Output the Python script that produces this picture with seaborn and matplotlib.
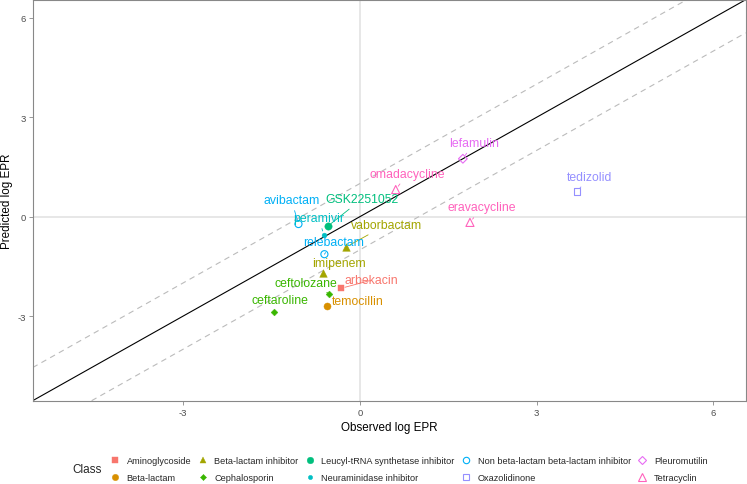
import numpy as np
import pandas as pd
import matplotlib
matplotlib.use("Agg")
import matplotlib.pyplot as plt
from matplotlib.lines import Line2D
import seaborn as sns

sns.set_theme(style="white")
plt.rcParams['font.family'] = ['Liberation Sans', 'DejaVu Sans']

# ---- data ----
drugs = ["arbekacin", "temocillin", "vaborbactam", "imipenem", "ceftolozane",
         "ceftaroline", "GSK2251052", "peramivir", "avibactam", "relebactam",
         "tedizolid", "lefamulin", "omadacycline", "eravacycline"]
drug_class = ["Aminoglycoside", "Beta-lactam", "Beta-lactam inhibitor",
              "Beta-lactam inhibitor", "Cephalosporin", "Cephalosporin",
              "Leucyl-tRNA synthetase inhibitor", "Neuraminidase inhibitor",
              "Non beta-lactam beta-lactam inhibitor",
              "Non beta-lactam beta-lactam inhibitor", "Oxazolidinone",
              "Pleuromutilin", "Tetracyclin", "Tetracyclin"]
observed = [-0.32, -0.55, -0.23, -0.63, -0.52, -1.46, -0.54, -0.61, -1.04,
            -0.60, 3.69, 1.75, 0.61, 1.87]
predicted = [-2.16, -2.69, -0.91, -1.71, -2.32, -2.88, -0.28, -0.55, -0.22,
             -1.13, 0.76, 1.75, 0.82, -0.17]

classes = ["Aminoglycoside", "Beta-lactam", "Beta-lactam inhibitor",
           "Cephalosporin", "Leucyl-tRNA synthetase inhibitor",
           "Neuraminidase inhibitor", "Non beta-lactam beta-lactam inhibitor",
           "Oxazolidinone", "Pleuromutilin", "Tetracyclin"]

df = pd.DataFrame({"drug": drugs, "Class": drug_class,
                   "Observed": observed, "Predicted": predicted})

# ---- styles ----
colors = ["#F8766D", "#D89000", "#A3A500", "#39B600", "#00BF7D",
          "#00BFC4", "#00B0F6", "#9590FF", "#E76BF3", "#FF62BC"]
markers = ["s", "o", "^", "D", "o", "o", "o", "s", "D", "^"]
sizes = [24, 26, 30, 12, 28, 12, 26, 20, 20, 34]
filled = [True, True, True, True, True, True, False, False, False, False]
cmap = dict(zip(classes, colors))

# label offsets in pixels (dx, dy; dy positive = up)
label_off = {
    "avibactam": (-7, 24), "GSK2251052": (34, 27), "peramivir": (-5, 17),
    "relebactam": (9, 12), "vaborbactam": (40, 22), "imipenem": (16, 10),
    "arbekacin": (30, 8), "ceftolozane": (-23, 11), "temocillin": (30, 5),
    "ceftaroline": (6, 12), "omadacycline": (12, 16), "lefamulin": (11, 16),
    "eravacycline": (12, 15), "tedizolid": (12, 15),
}

fig = plt.figure(figsize=(7.47, 4.85), dpi=100)
ax = fig.add_axes([0.0438, 0.1718, 0.9545, 0.8268])

ax.axhline(0, color="#E0E0E0", lw=1.1, zorder=0)
ax.axvline(0, color="#E0E0E0", lw=1.1, zorder=0)
ax.axline((0, 0), slope=1, color="black", lw=0.8, zorder=1)
ax.axline((0, 1), slope=1, color="#BBBBBB", lw=0.8, ls=(0, (5, 4)), zorder=1)
ax.axline((0, -1), slope=1, color="#BBBBBB", lw=0.8, ls=(0, (5, 4)), zorder=1)

for c, col, m, s, f in zip(classes, colors, markers, sizes, filled):
    sub = df[df["Class"] == c]
    if f:
        sns.scatterplot(data=sub, x="Observed", y="Predicted", marker=m, s=s,
                        color=col, edgecolor=col, linewidth=0.3, ax=ax,
                        legend=False, zorder=3)
    else:
        sns.scatterplot(data=sub, x="Observed", y="Predicted", marker=m, s=s,
                        color=col, facecolor="none", edgecolor=col,
                        linewidth=0.8, ax=ax, legend=False, zorder=3)

for _, r in df.iterrows():
    col = cmap[r["Class"]]
    dx, dy = label_off[r["drug"]]
    ax.annotate(r["drug"], (r["Observed"], r["Predicted"]),
                xytext=(dx, dy), textcoords="offset pixels",
                ha="center", va="center", fontsize=8.8, color=col, zorder=4,
                arrowprops=dict(arrowstyle="-", color=col, lw=0.6,
                                shrinkA=1, shrinkB=3))

ax.set_xlim(-5.55, 6.55)
ax.set_ylim(-5.55, 6.55)
ax.set_xticks([-3, 0, 3, 6])
ax.set_yticks([-3, 0, 3, 6])
ax.set_xticklabels(["-3", "0", "3", "6"])
ax.set_yticklabels(["-3", "0", "3", "6"])
ax.tick_params(axis="both", labelsize=6.8, labelcolor="#4D4D4D", length=3,
               width=0.6, color="#888888", direction="out", pad=2,
               bottom=True, left=True)
ax.set_xlabel("Observed log EPR", fontsize=8.4, color="black", labelpad=3)
ax.set_ylabel("Predicted log EPR", fontsize=8.4, color="black", labelpad=3)
for sp in ax.spines.values():
    sp.set_color("#888888")
    sp.set_linewidth(0.8)
ax.grid(False)

handles = []
for c, col, m, s, f in zip(classes, colors, markers, sizes, filled):
    ms = np.sqrt(s) * 0.9
    if f:
        h = Line2D([], [], ls="none", marker=m, markersize=ms, color=col,
                   markerfacecolor=col, markeredgecolor=col, markeredgewidth=0.3)
    else:
        h = Line2D([], [], ls="none", marker=m, markersize=ms, color=col,
                   markerfacecolor="none", markeredgecolor=col,
                   markeredgewidth=0.8)
    handles.append(h)

leg = fig.legend(handles, classes, ncol=5, loc="center left",
                 bbox_to_anchor=(0.1478, 0.0309), frameon=False, fontsize=6.6,
                 handlelength=1.0, handletextpad=0.77, columnspacing=0.73,
                 labelspacing=0.9, borderpad=0.0, borderaxespad=0.0)
fig.text(0.1165, 0.0309, "Class", fontsize=8.5, ha="center", va="center")

fig.savefig("out.png", dpi=100)
